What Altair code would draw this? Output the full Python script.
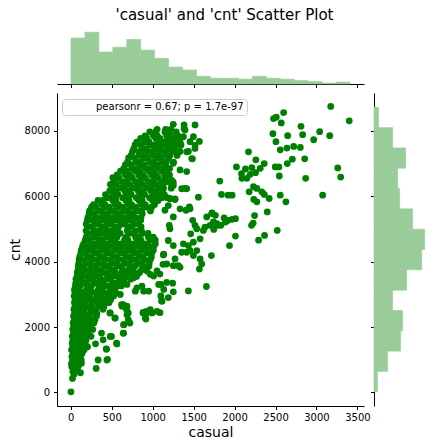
import altair as alt
import numpy as np
import pandas as pd

TITLE = "'casual' and 'cnt' Scatter Plot"
STAT_LABEL = "pearsonr = 0.67; p = 1.7e-97"

casual_min, casual_max = 2, 3410
cnt_min, cnt_max = 22, 8714

x_ticks = [0, 500, 1000, 1500, 2000, 2500, 3000, 3500]
y_ticks = [0, 2000, 4000, 6000, 8000]

# marginal histograms: 20 bins over casual, 14 bins over cnt
casual_hist = [95, 107, 66, 76, 92, 70, 53, 35, 29, 16, 12, 12, 10, 16, 12, 10, 7, 5, 2, 4]
cnt_hist = [7, 27, 53, 57, 37, 65, 95, 101, 77, 51, 47, 63, 37, 9]

# scatter cloud, row by row: cnt -> casual values
stem_rows = {
    785: [12, 58],
    880: [8, 47, 96],
    995: [22, 64, 127],
    1095: [14, 57, 112],
    1190: [28, 79, 138],
    1305: [9, 51, 104, 163],
    1395: [23, 66, 124, 205],
    1505: [17, 58, 118, 176],
    1600: [26, 71, 135, 186],
    1715: [18, 69, 121, 180, 247],
    1805: [33, 88, 141, 214],
    1925: [24, 76, 138, 196, 268],
    2015: [37, 92, 158, 223],
    2125: [29, 86, 147, 218, 281],
    2215: [42, 103, 161, 236, 296],
    2335: [33, 98, 157, 226, 314],
    2420: [46, 112, 171, 249, 318],
    2540: [38, 101, 166, 243, 306, 393],
    2630: [52, 118, 183, 251, 336, 405],
    2745: [44, 107, 176, 254, 322, 398, 466],
    2835: [53, 124, 187, 263, 331, 414, 487],
}

core_rows = {
    2945: [41, 95, 168, 226, 318, 371, 452, 523],
    3060: [52, 131, 177, 264, 309, 402, 471, 548],
    3140: [44, 99, 190, 243, 336, 380, 489, 534],
    3255: [57, 113, 206, 251, 347, 418, 466, 571, 617],
    3340: [61, 148, 189, 285, 329, 394, 512, 560, 637],
    3460: [63, 124, 219, 262, 358, 431, 484, 597, 652, 734],
    3545: [77, 152, 204, 298, 351, 457, 509, 568, 689, 741, 803],
    3660: [79, 137, 239, 288, 394, 441, 543, 619, 664, 778, 838],
    3740: [88, 171, 226, 322, 371, 482, 527, 633, 701, 757, 862],
    3860: [91, 149, 257, 301, 412, 459, 571, 618, 727, 782, 884, 953],
    3940: [97, 186, 233, 339, 387, 498, 553, 661, 709, 818, 866, 957],
    4060: [102, 163, 268, 315, 427, 479, 584, 642, 748, 797, 901, 972],
    4140: [108, 204, 245, 357, 401, 517, 562, 679, 723, 837, 879, 984],
    4260: [122, 178, 289, 332, 448, 493, 608, 651, 769, 812, 928, 987],
    4345: [128, 221, 263, 381, 427, 541, 589, 704, 748, 862, 907, 1008],
    4460: [143, 194, 312, 356, 472, 518, 633, 676, 793, 838, 954, 1012],
    4540: [158, 251, 289, 408, 449, 568, 611, 729, 771, 889, 932, 1033],
    4655: [177, 229, 343, 382, 497, 537, 656, 698, 814, 857, 973, 1032],
    4745: [188, 281, 322, 437, 479, 563, 673, 792, 831, 948, 1007],
    4860: [203, 259, 368, 411, 521, 602, 714, 768, 873, 943],
    4940: [187, 287, 323, 442, 487, 571, 689, 796, 863],
    5060: [203, 262, 379, 421, 538, 583, 697, 741, 858],
    5145: [188, 291, 334, 451, 492, 611, 652, 771, 827],
    5265: [203, 258, 382, 419, 541, 582, 701, 738, 853],
    5340: [208, 311, 352, 469, 513, 629, 671, 789, 857],
    5460: [223, 279, 402, 441, 562, 601, 722, 761, 873],
    5545: [228, 331, 371, 492, 531, 652, 691, 812, 861, 973],
    5660: [253, 309, 432, 471, 591, 632, 751, 792, 918, 987],
    5740: [278, 381, 419, 541, 582, 701, 742, 862, 909, 1023],
    5865: [333, 389, 512, 551, 672, 711, 834, 872, 998, 1067],
}

upper_rows = {
    5950: [452, 527, 634, 689, 801, 848, 962, 1011, 1113, 1176],
    6045: [423, 519, 576, 681, 737, 846, 901, 1008, 1061, 1143],
    6160: [476, 548, 659, 709, 823, 871, 979, 1034, 1118],
    6240: [503, 601, 655, 761, 814, 926, 978, 1083, 1132, 1226],
    6355: [484, 557, 669, 719, 831, 879, 992, 1039, 1127],
    6440: [527, 627, 679, 791, 838, 951, 999, 1108, 1155, 1243],
    6560: [514, 588, 699, 751, 864, 911, 1021, 1069, 1156],
    6645: [566, 667, 719, 829, 879, 989, 1041, 1147, 1206],
    6760: [607, 679, 791, 839, 951, 1003, 1111, 1168],
    6840: [646, 743, 797, 909, 961, 1068, 1119, 1207],
    6960: [667, 737, 852, 899, 1011, 1059, 1153],
    7040: [694, 797, 846, 962, 1009, 1118, 1167, 1254],
    7165: [706, 779, 891, 938, 1052, 1098, 1193],
    7240: [736, 838, 887, 1001, 1049, 1161, 1209, 1297],
    7360: [754, 829, 941, 988, 1101, 1149, 1241],
    7440: [767, 868, 918, 1031, 1079, 1189, 1252],
    7560: [784, 859, 971, 1019, 1131, 1181, 1289, 1346],
    7645: [806, 909, 958, 1072, 1118, 1229, 1292],
    7765: [853, 928, 1039, 1089, 1201, 1248, 1337],
    7840: [906, 1009, 1057, 1171, 1219, 1308],
    7960: [964, 1038, 1149, 1199, 1287],
    8040: [1054, 1158, 1223],
}

# loose points around the base and the lower edge of the cloud (casual, cnt)
low_points = [
    (2, 22), (21, 429), (40, 560), (25, 640), (49, 685), (118, 603), (89, 788),
    (69, 942), (130, 891), (334, 993), (448, 1014), (441, 992), (310, 736),
    (302, 1486), (436, 1322), (433, 1331), (395, 1609), (559, 1506), (563, 1485),
    (497, 1711), (482, 1711), (375, 1814), (640, 1814), (645, 1813), (648, 2070),
    (645, 2070), (722, 2122), (538, 2276), (543, 2275), (477, 2430), (482, 2429),
    (702, 2430), (686, 2377), (681, 2532), (620, 2686), (625, 2634), (686, 2634),
    (640, 2686), (681, 2584), (702, 2224), (885, 2450), (918, 2245), (926, 2430),
    (922, 2480), (882, 2429), (992, 2429), (971, 2531), (1053, 2480), (910, 2275),
    (1089, 2437), (1114, 2788), (1109, 2796), (1191, 2899), (1252, 3074),
    (1436, 3104), (1656, 3238), (1100, 2950), (1100, 3300), (1135, 3147),
    (1073, 3301), (1012, 3557), (931, 3711), (767, 3506), (808, 3198), (869, 3250),
    (686, 3301), (604, 2993), (502, 3014), (482, 3198), (604, 3403), (645, 3557),
    (706, 3557), (788, 3096), (890, 3096), (951, 3096), (1126, 3916), (1135, 4224),
    (1053, 3711), (971, 3609), (1171, 3361), (1244, 3340), (1089, 3617),
]

# top of the steep cluster (casual, cnt)
upper_points = [
    (1252, 8193), (1383, 8173), (1517, 8173), (1395, 8019), (1375, 7814),
    (1497, 7814), (1334, 7660), (1456, 7660), (1517, 7455), (1477, 7147),
    (1415, 7352), (1211, 5917), (1273, 5917), (1334, 5609), (1456, 5609),
    (1191, 5711), (1558, 5967), (1232, 6480), (1252, 6326), (1354, 6224),
    (1415, 6224), (1383, 8060), (1570, 7670), (1517, 7547), (1436, 7362),
    (1485, 7137), (1415, 6747), (1334, 6798), (1395, 6234), (1448, 5669),
    (1407, 5567), (1252, 5362), (1203, 5105), (1150, 5567), (1211, 5926),
    (1273, 5895), (1211, 6418), (1252, 6418), (1122, 6234), (1171, 6870),
    (1252, 7003), (1293, 7362), (1334, 7362), (1211, 7567), (1171, 7670),
    (1089, 7465),
]

# the flatter arm between casual 1100 and 2000 (casual, cnt)
middle_arm = [
    (1489, 5259), (1517, 5105), (1538, 5002), (1640, 5054), (1701, 5105),
    (1742, 5208), (1783, 5156), (1721, 5464), (1660, 5362), (1619, 4951),
    (1579, 4695), (1497, 4592), (1436, 4489), (1456, 4335), (1538, 4335),
    (1497, 4182), (1579, 4079), (1599, 3925), (1570, 3771), (1415, 4284),
    (1354, 4284), (1273, 4079), (1313, 3874), (1334, 3822), (1252, 3874),
    (1171, 3925), (1130, 4202), (1191, 4643), (1252, 4489), (1375, 4541),
    (1464, 4848), (1211, 5002), (1717, 4182), (1746, 4982), (1795, 5105),
    (1832, 5105), (1889, 5208), (1725, 5485), (1766, 5413), (1872, 5331),
    (1921, 5259), (1970, 5290), (2011, 5310), (1938, 4489), (2011, 4777),
]

# sparse points with high casual counts (casual, cnt)
far_arm = [
    (3174, 8737), (3400, 8300), (2599, 8552), (2509, 8409), (2476, 8368),
    (2570, 8234), (2811, 8132), (2831, 7875), (2648, 7844), (2468, 7906),
    (2505, 7660), (3039, 7968), (3162, 7844), (2966, 7721), (2721, 7516),
    (2639, 7465), (2558, 7413), (2803, 7485), (2856, 7137), (2705, 7126),
    (2643, 6993), (2541, 6890), (2497, 6890), (2546, 6613), (2170, 7352),
    (2260, 7106), (2362, 6993), (2313, 6849), (2256, 6716), (2211, 6870),
    (2133, 6829), (2085, 6685), (2089, 6541), (2150, 6541), (2191, 6665),
    (2023, 6890), (1819, 6459), (2178, 6131), (2231, 6285), (2272, 6234),
    (2333, 6131), (2362, 6049), (2423, 5926), (2235, 5895), (2272, 5823),
    (2558, 6028), (2627, 5823), (2868, 6541), (3260, 6859), (3296, 6582),
    (3076, 6028), (2399, 5516), (2244, 5403), (2227, 5177), (2207, 5105),
    (2521, 4951), (2366, 4797), (2293, 4653), (1840, 6049), (1921, 6028),
    (1970, 6028),
]

points = []
for rows in (stem_rows, core_rows, upper_rows):
    for cnt, xs in rows.items():
        points += [(c, cnt) for c in xs]
points += low_points + upper_points + middle_arm + far_arm
df = pd.DataFrame(points, columns=["casual", "cnt"])
df["stat"] = STAT_LABEL

casual_edges = np.linspace(casual_min, casual_max, len(casual_hist) + 1)
top_df = pd.DataFrame({"start": casual_edges[:-1], "end": casual_edges[1:],
                       "count": casual_hist, "base": 0})
cnt_edges = np.linspace(cnt_min, cnt_max, len(cnt_hist) + 1)
right_df = pd.DataFrame({"start": cnt_edges[:-1], "end": cnt_edges[1:],
                         "count": cnt_hist, "base": 0})

# same 5% margin that matplotlib puts round the data
pad_x = 0.05 * (casual_max - casual_min)
pad_y = 0.05 * (cnt_max - cnt_min)
x_scale = alt.Scale(domain=[casual_min - pad_x, casual_max + pad_x], nice=False, zero=False)
y_scale = alt.Scale(domain=[cnt_min - pad_y, cnt_max + pad_y], nice=False, zero=False)

HIST_GREEN = "#99cc99"

main = (
    alt.Chart(df)
    .mark_circle(size=46, opacity=1)
    .encode(
        x=alt.X("casual:Q", scale=x_scale,
                axis=alt.Axis(values=x_ticks, format="d", title="casual",
                              labelPadding=3, titlePadding=3)),
        y=alt.Y("cnt:Q", scale=y_scale,
                axis=alt.Axis(values=y_ticks, format="d", title="cnt",
                              labelPadding=4, titlePadding=2)),
        color=alt.Color(
            "stat:N",
            scale=alt.Scale(range=["green"]),
            legend=alt.Legend(
                title=None, orient="none", legendX=5, legendY=6,
                fillColor="white", strokeColor="#cccccc", cornerRadius=3, padding=3,
                symbolSize=64, symbolOpacity=0, symbolStrokeWidth=0,
                labelOffset=21, labelFontSize=10, labelColor="black",
                labelFont="DejaVu Sans", labelLimit=0,
            ),
        ),
    )
    .properties(width=307, height=313)
)

top = (
    alt.Chart(top_df)
    .mark_rect(color=HIST_GREEN, stroke=HIST_GREEN, strokeWidth=0.6)
    .encode(
        x=alt.X("start:Q", scale=x_scale, axis=alt.Axis(values=x_ticks, labels=False, title=None)),
        x2="end:Q",
        y=alt.Y("base:Q", scale=alt.Scale(domain=[0, 126]), axis=None),
        y2="count:Q",
    )
    .properties(width=307, height=61)
)

right = (
    alt.Chart(right_df)
    .mark_rect(color=HIST_GREEN, stroke=HIST_GREEN, strokeWidth=0.6)
    .encode(
        y=alt.Y("start:Q", scale=y_scale, axis=alt.Axis(values=y_ticks, labels=False, title=None)),
        y2="end:Q",
        x=alt.X("base:Q", scale=alt.Scale(domain=[0, 109.5]), axis=None),
        x2="count:Q",
    )
    .properties(width=55, height=313)
)

chart = (
    alt.vconcat(
        top,
        alt.hconcat(main, right, spacing=10, bounds="flush"),
        spacing=9,
        bounds="flush",
    )
    .properties(
        title=alt.TitleParams(TITLE, fontSize=15, fontWeight="normal", font="DejaVu Sans",
                              color="black", anchor="middle", offset=0, dx=6),
        padding=0,
    )
    .resolve_scale(x="independent", y="independent")
    .resolve_legend(color="independent")
    .configure_view(stroke=None)
    .configure_axis(
        grid=False, domainColor="black", tickColor="black", tickSize=3.5,
        labelColor="black", labelFontSize=10, labelFont="DejaVu Sans",
        titleFont="DejaVu Sans", titleFontSize=14, titleFontWeight="normal",
        titleColor="black",
    )
)

chart.save("out.html", embed_options={"renderer": "svg", "actions": False})
